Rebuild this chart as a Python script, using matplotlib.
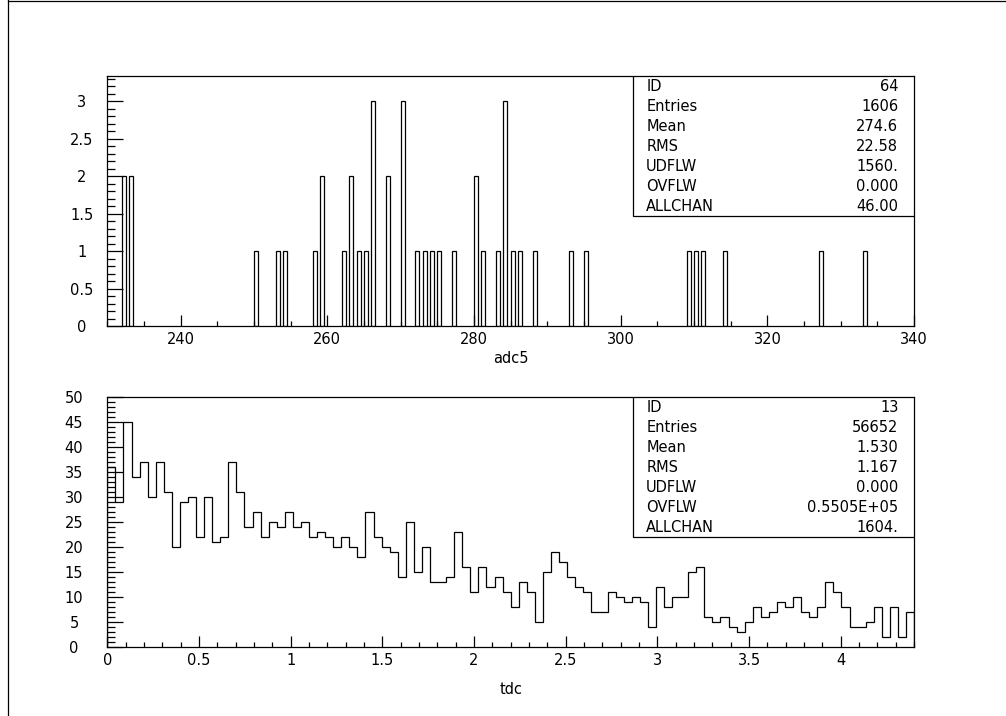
import matplotlib
matplotlib.use("Agg")
import matplotlib.pyplot as plt
from matplotlib.ticker import MultipleLocator, FormatStrFormatter
from matplotlib.lines import Line2D

# --- adc5: channel value and count of each filled channel ---
adc5_values = [232, 233, 250, 253, 254, 258, 259, 262, 263, 264, 265, 266,
               268, 270, 272, 273, 274, 275, 277, 280, 281, 283, 284, 285,
               286, 288, 293, 295, 309, 310, 311, 314, 327, 333]
adc5_counts = [2, 2, 1, 1, 1, 1, 2, 1, 2, 1, 1, 3,
               2, 3, 1, 1, 1, 1, 1, 2, 1, 1, 3, 1,
               1, 1, 1, 1, 1, 1, 1, 1, 1, 1]
adc5_bin_width = 0.55
adc5_stats_names = ["ID", "Entries", "Mean", "RMS", "UDFLW", "OVFLW", "ALLCHAN"]
adc5_stats_values = ["64", "1606", "274.6", "22.58", "1560.", "0.000", "46.00"]

# --- tdc: 100 bins between 0 and 4.4 ---
tdc_low, tdc_high, tdc_nbins = 0.0, 4.4, 100
tdc_counts = [36, 29, 45, 34, 37, 30, 37, 31, 20, 29,
              30, 22, 30, 21, 22, 37, 31, 24, 27, 22,
              25, 24, 27, 24, 25, 22, 23, 22, 20, 22,
              20, 18, 27, 22, 20, 19, 14, 25, 15, 20,
              13, 13, 14, 23, 16, 11, 16, 12, 14, 11,
              8, 13, 11, 5, 15, 19, 17, 14, 12, 11,
              7, 7, 11, 10, 9, 10, 9, 4, 12, 8,
              10, 10, 15, 16, 6, 5, 6, 4, 3, 5,
              8, 6, 7, 9, 8, 10, 7, 6, 8, 13,
              11, 8, 4, 4, 5, 8, 2, 8, 2, 7]
tdc_stats_names = ["ID", "Entries", "Mean", "RMS", "UDFLW", "OVFLW", "ALLCHAN"]
tdc_stats_values = ["13", "56652", "1.530", "1.167", "0.000", "0.5505E+05", "1604."]

FS = 10.5
LW = 0.9

plt.rcParams["font.family"] = "DejaVu Sans"
fig = plt.figure(figsize=(10.06, 7.16), dpi=100)

# page frame
fig.add_artist(Line2D([8 / 1006, 8 / 1006], [0, 1], color="black", lw=LW,
                      transform=fig.transFigure))
fig.add_artist(Line2D([8 / 1006, 1], [1 - 0.5 / 716, 1 - 0.5 / 716],
                      color="black", lw=LW, transform=fig.transFigure))

ax1 = fig.add_axes([0.1067, 0.5447, 0.8019, 0.3485])
ax2 = fig.add_axes([0.1067, 0.0959, 0.8019, 0.3492])


def style_axes(ax, xmajor, xminor, ymajor, yminor, ylab_pad):
    for side in ["left", "right", "top", "bottom"]:
        ax.spines[side].set_linewidth(LW)
    ax.xaxis.set_major_locator(MultipleLocator(xmajor))
    ax.xaxis.set_minor_locator(MultipleLocator(xminor))
    ax.yaxis.set_major_locator(MultipleLocator(ymajor))
    ax.yaxis.set_minor_locator(MultipleLocator(yminor))
    ax.xaxis.set_major_formatter(FormatStrFormatter("%g"))
    ax.yaxis.set_major_formatter(FormatStrFormatter("%g"))
    ax.tick_params(axis="x", which="major", direction="in", length=7.6,
                   width=LW, labelsize=FS, pad=4)
    ax.tick_params(axis="x", which="minor", direction="in", length=3.6, width=LW)
    ax.tick_params(axis="y", which="major", direction="in", length=11.2,
                   width=LW, labelsize=FS, pad=ylab_pad)
    ax.tick_params(axis="y", which="minor", direction="in", length=6.1, width=LW)
    for lab in ax.get_yticklabels():
        lab.set_horizontalalignment("center")


def stats_box(ax, names, values):
    box = plt.Rectangle((0.651, 1 - 139.5 / 250), 0.349, 139.5 / 250,
                        transform=ax.transAxes, facecolor="white",
                        edgecolor="black", lw=LW, zorder=5)
    ax.add_patch(box)
    for i, (n, v) in enumerate(zip(names, values)):
        y = 1 - (10 + 20.1 * i) / 250
        ax.text(0.668, y, n, transform=ax.transAxes, ha="left", va="center",
                fontsize=FS, zorder=6)
        ax.text(0.9805, y, v, transform=ax.transAxes, ha="right", va="center",
                fontsize=FS, zorder=6)


# top: adc5
ax1.bar(adc5_values, adc5_counts, width=adc5_bin_width, align="edge",
        facecolor="white", edgecolor="black", linewidth=LW)
ax1.set_xlim(230, 340)
ax1.set_ylim(0, 3.33)
style_axes(ax1, 20, 5, 0.5, 0.1, 18.5)
ax1.set_xlabel("adc5", fontsize=FS, labelpad=3)
stats_box(ax1, adc5_stats_names, adc5_stats_values)

# bottom: tdc
step = (tdc_high - tdc_low) / tdc_nbins
edges = [tdc_low + i * step for i in range(tdc_nbins + 1)]
ax2.stairs(tdc_counts, edges, baseline=0, color="black", linewidth=LW)
ax2.set_xlim(tdc_low, tdc_high)
ax2.set_ylim(0, 50)
style_axes(ax2, 0.5, 0.1, 5, 1, 24)
ax2.set_xlabel("tdc", fontsize=FS, labelpad=10)
stats_box(ax2, tdc_stats_names, tdc_stats_values)

fig.savefig("out.png", dpi=100)
